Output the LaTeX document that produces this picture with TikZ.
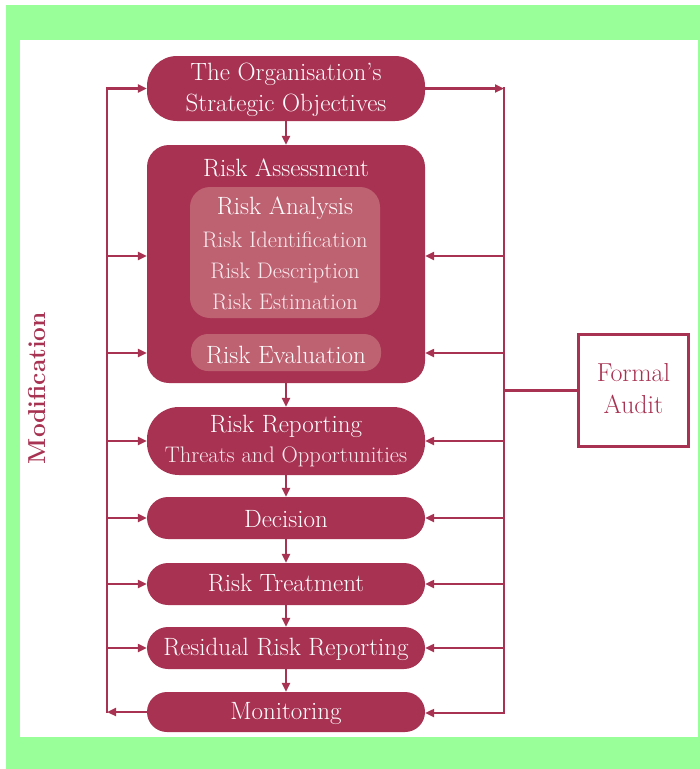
\documentclass[tikz,border=0pt]{standalone}
\usepackage{fontspec}
\usetikzlibrary{arrows.meta}
\definecolor{crim}{RGB}{168,50,82}
\definecolor{crimlt}{RGB}{190,98,114}
\definecolor{bggreen}{RGB}{153,255,153}
\definecolor{subtxt}{RGB}{250,234,238}
\begin{document}
\begin{tikzpicture}[x=1pt,y=-1pt,
  box/.style={fill=crim,draw=none,rounded corners=#1,minimum width=278pt,inner sep=0pt},
  inbox/.style={fill=crimlt,draw=none,rounded corners=#1,minimum width=190pt,inner sep=0pt},
  ttl/.style={anchor=base,inner sep=0pt,text=white,font=\fontsize{25}{30}\selectfont},
  sub/.style={anchor=base,inner sep=0pt,text=subtxt,font=\fontsize{22.5}{27}\selectfont},
  conn/.style={draw=crim,line width=2.2pt,line cap=rect},
  arr/.style={draw=crim,line width=2.2pt,-{Triangle[length=9pt,width=8pt]}}
]
\fill[bggreen] (6,5) rectangle (700,769);
\fill[white] (20,40) rectangle (698,737);
\useasboundingbox (0,0) rectangle (700,769);

% boxes
\node[box=30pt,minimum height=65pt] (obj) at (286,88.5) {};
\node[box=22pt,minimum height=238pt] (ra) at (286,264) {};
\node[inbox=20pt,minimum height=131pt] (an) at (285,252.5) {};
\node[inbox=17pt,minimum height=37pt] (ev) at (286,352.5) {};
\node[box=32pt,minimum height=68pt] (rep) at (286,441) {};
\node[box=21pt,minimum height=42pt] (dec) at (286,518) {};
\node[box=21pt,minimum height=42pt] (treat) at (286,584) {};
\node[box=21pt,minimum height=42pt] (resid) at (286,648) {};
\node[box=20pt,minimum height=40pt] (mon) at (286,712) {};
\node[draw=crim,line width=3pt,minimum width=110pt,minimum height=112pt,inner sep=0pt] (audit) at (633.5,390.5) {};

% texts
\node[ttl] (t1a) at (286,80) {The Organisation's};
\node[ttl] (t1b) at (286,111) {Strategic Objectives};
\node[ttl] (t2) at (286,176) {Risk Assessment};
\node[ttl] (t3) at (285,214) {Risk Analysis};
\node[sub] (t3a) at (285,247) {Risk Identification};
\node[sub] (t3b) at (285,278) {Risk Description};
\node[sub] (t3c) at (285,309) {Risk Estimation};
\node[ttl] (t4) at (286,363) {Risk Evaluation};
\node[ttl] (t5) at (286,432) {Risk Reporting};
\node[sub] (t5a) at (286,462) {Threats and Opportunities};
\node[ttl] (t6) at (286,527) {Decision};
\node[ttl] (t7) at (286,591) {Risk Treatment};
\node[ttl] (t8) at (286,655) {Residual Risk Reporting};
\node[ttl] (t9) at (286,719) {Monitoring};
\node[anchor=base,inner sep=0pt,text=crim,font=\fontsize{26}{30}\selectfont] (fa1) at (633.5,381) {Formal};
\node[anchor=base,inner sep=0pt,text=crim,font=\fontsize{26}{30}\selectfont] (fa2) at (633.5,413) {Audit};
\node[rotate=90,inner sep=0pt,text=crim,font=\bfseries\fontsize{24.5}{28}\selectfont] (mod) at (37,388) {Modification};

% side lines
\coordinate (L0) at (107,88.5);
\coordinate (L1) at (107,256);
\coordinate (L2) at (107,353);
\coordinate (L3) at (107,441);
\coordinate (L4) at (107,518);
\coordinate (L5) at (107,584);
\coordinate (L6) at (107,648);
\coordinate (L7) at (107,712);
\coordinate (R0) at (504,88.5);
\coordinate (R1) at (504,256);
\coordinate (R2) at (504,353);
\coordinate (R3) at (504,441);
\coordinate (R4) at (504,518);
\coordinate (R5) at (504,584);
\coordinate (R6) at (504,648);
\coordinate (R7) at (504,713);
\draw[conn] (L0) -- (L7);
\draw[conn] (R0) -- (R7);

% left arrows
\draw[arr] (L0) -- (obj.west);
\draw[arr] (L1) -- (ra.west |- L1);
\draw[arr] (L2) -- (ra.west |- L2);
\draw[arr] (L3) -- (rep.west);
\draw[arr] (L4) -- (dec.west);
\draw[arr] (L5) -- (treat.west);
\draw[arr] (L6) -- (resid.west);
\draw[arr] (mon.west) -- (L7);

% right arrows
\draw[arr] (obj.east) -- (R0);
\draw[arr] (R1) -- (ra.east |- R1);
\draw[arr] (R2) -- (ra.east |- R2);
\draw[arr] (R3) -- (rep.east);
\draw[arr] (R4) -- (dec.east);
\draw[arr] (R5) -- (treat.east);
\draw[arr] (R6) -- (resid.east);
\draw[arr] (R7) -- (mon.east |- R7);

% audit link
\draw[conn] (audit.west) -- (audit.west -| R0);

% down arrows
\draw[arr] (obj) -- (ra);
\draw[arr] (ra) -- (rep);
\draw[arr] (rep) -- (dec);
\draw[arr] (dec) -- (treat);
\draw[arr] (treat) -- (resid);
\draw[arr] (resid) -- (mon);
\end{tikzpicture}
\end{document}
